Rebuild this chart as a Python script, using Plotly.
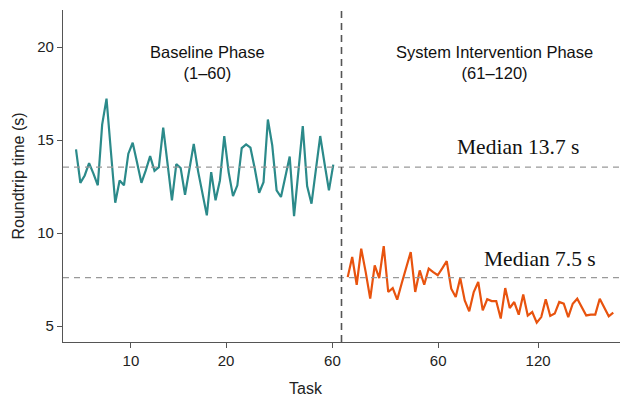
import plotly.graph_objects as go

# ---- data ----
baseline_tasks = list(range(1, 61))
baseline_times = [
    14.5, 12.7, 13.1, 13.76, 13.2, 12.57, 15.83, 17.23, 14.4, 11.63,
    12.83, 12.57, 14.27, 14.86, 13.8, 12.7, 13.37, 14.14, 13.35, 13.55,
    15.67, 13.7, 11.76, 13.71, 13.5, 12.06, 13.4, 14.8, 13.32, 12.1,
    10.95, 13.28, 11.76, 12.83, 15.22, 13.28, 11.99, 12.57, 14.57, 14.77,
    14.59, 13.46, 12.17, 12.74, 16.11, 14.72, 12.3, 11.94, 13.0, 14.12,
    10.91, 13.46, 15.75, 12.53, 11.58, 13.4, 15.22, 13.73, 12.3, 13.68,
]
intervention_tasks = list(range(61, 121))
intervention_times = [
    7.63, 8.71, 7.22, 9.16, 7.9, 6.47, 8.26, 7.58, 9.3, 6.83,
    7.04, 6.42, 7.3, 8.2, 8.98, 6.83, 7.99, 7.22, 8.09, 7.9,
    7.73, 8.1, 8.49, 7.01, 6.56, 7.58, 6.38, 5.79, 6.83, 7.37,
    5.84, 6.44, 6.34, 6.34, 5.4, 7.04, 5.97, 6.29, 5.61, 6.69,
    5.56, 5.75, 5.18, 5.48, 6.44, 5.54, 5.67, 6.29, 6.2, 5.48,
    6.2, 6.47, 6.0, 5.57, 5.61, 5.61, 6.47, 6.0, 5.52, 5.72,
]
median_baseline_pos = 13.55
median_intervention_pos = 7.6
median_labels = ["Median 13.7 s", "Median 7.5 s"]
phase_labels = ["Baseline Phase<br>(1–60)", "System Intervention Phase<br>(61–120)"]
left_tickvals = [13.6, 35.4, 59.8]
left_ticktext = ["10", "20", "60"]
right_tickvals = [81.1, 103.3]
right_ticktext = ["60", "120"]
y_tickvals = [5, 10, 15, 20]

TEAL = "#2b8a8a"
ORANGE = "#e8530e"
AXIS = "#555555"
FONT = "Liberation Sans, Arial, sans-serif"
SERIF = "Liberation Serif, Times New Roman, serif"

fig = go.Figure()
fig.add_trace(go.Scatter(x=baseline_tasks, y=baseline_times, mode="lines",
                         line=dict(color=TEAL, width=2.2), xaxis="x", yaxis="y",
                         showlegend=False))
fig.add_trace(go.Scatter(x=intervention_tasks, y=intervention_times, mode="lines",
                         line=dict(color=ORANGE, width=2.2), xaxis="x2", yaxis="y",
                         showlegend=False))

common_x = dict(showgrid=False, zeroline=False, showline=True, linecolor=AXIS,
                linewidth=1.2, ticks="outside", ticklen=5, tickcolor=AXIS,
                tickfont=dict(family=FONT, size=15, color="#222"))
fig.update_layout(
    width=620, height=399,
    margin=dict(l=63, r=0, t=10, b=57),
    paper_bgcolor="white", plot_bgcolor="white",
    xaxis=dict(domain=[0, 0.5], range=[-1.98, 61.88], tickvals=left_tickvals,
               ticktext=left_ticktext, **common_x),
    xaxis2=dict(domain=[0.5, 1], range=[59.62, 121.5], anchor="y",
                tickvals=right_tickvals, ticktext=right_ticktext, **common_x),
    yaxis=dict(range=[4.14, 22.0], tickvals=y_tickvals, showgrid=False,
               zeroline=False, showline=True, linecolor=AXIS, linewidth=1.2,
               ticks="outside", ticklen=5, tickcolor=AXIS,
               tickfont=dict(family=FONT, size=15, color="#222"),
               title=dict(text="Roundtrip time (s)", standoff=8,
                          font=dict(family=FONT, size=16, color="#222"))),
)

# median lines
for yv in [median_baseline_pos, median_intervention_pos]:
    fig.add_shape(type="line", xref="paper", yref="y", x0=0, x1=1, y0=yv, y1=yv,
                  line=dict(color="#999999", width=1.3, dash="6px,5px"))
# phase divider
fig.add_shape(type="line", xref="paper", yref="paper", x0=0.5, x1=0.5, y0=0, y1=1,
              line=dict(color="#555555", width=1.6, dash="7px,5px"))

# phase titles
fig.add_annotation(text=phase_labels[0], xref="paper", yref="paper", x=0.259, y=0.843,
                   xanchor="center", yanchor="middle", showarrow=False,
                   font=dict(family=FONT, size=16.5, color="#111"))
fig.add_annotation(text=phase_labels[1], xref="paper", yref="paper", x=0.774, y=0.843,
                   xanchor="center", yanchor="middle", showarrow=False,
                   font=dict(family=FONT, size=16.5, color="#111"))
# median labels
fig.add_annotation(text=median_labels[0], xref="paper", yref="y", x=0.817, y=14.62,
                   xanchor="center", yanchor="middle", showarrow=False,
                   font=dict(family=SERIF, size=21.5, color="#111"))
fig.add_annotation(text=median_labels[1], xref="paper", yref="y", x=0.856, y=8.59,
                   xanchor="center", yanchor="middle", showarrow=False,
                   font=dict(family=SERIF, size=21.5, color="#111"))
# x title
fig.add_annotation(text="Task", xref="paper", yref="paper", x=0.436, y=-0.14,
                   xanchor="center", yanchor="middle", showarrow=False,
                   font=dict(family=FONT, size=16, color="#222"))

fig.write_html("out.html")
